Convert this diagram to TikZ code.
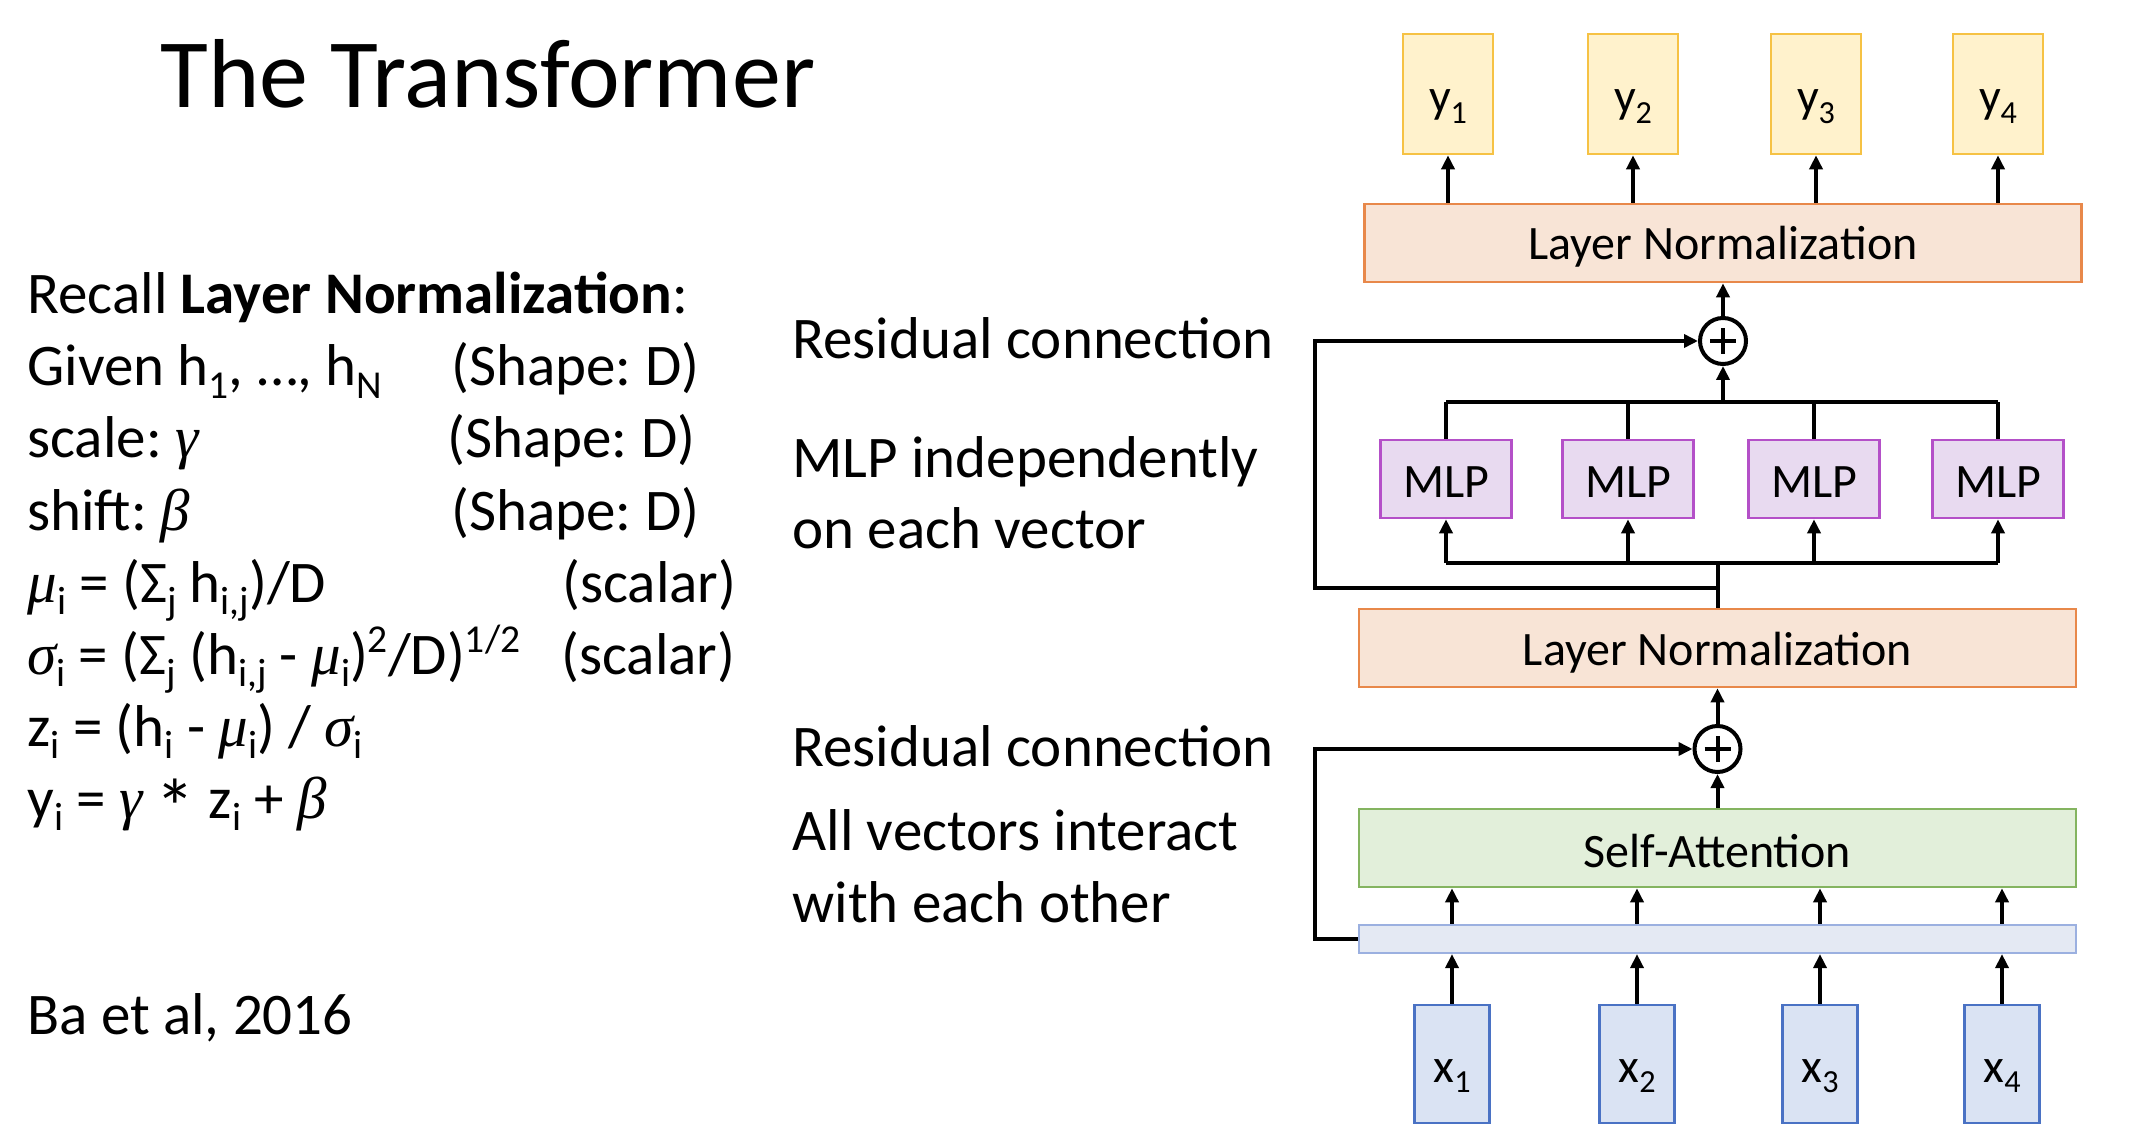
\documentclass[tikz,border=0pt]{standalone}
\usepackage{fontspec}
\setmainfont{Carlito}
\newfontfamily\grkfont{Liberation Serif}
\usetikzlibrary{arrows.meta}
\frenchspacing
\newcommand{\lsb}[1]{\raisebox{-0.22em}{\scalebox{0.67}{#1}}}
\newcommand{\lsp}[1]{\raisebox{0.36em}{\scalebox{0.67}{#1}}}
\newcommand{\gk}[1]{{\grkfont\itshape #1}}
\newcommand{\mystar}{\raisebox{-0.3em}{\scalebox{1.35}{*}}}
\definecolor{yfill}{HTML}{FFF2CC}
\definecolor{yline}{HTML}{F6C244}
\definecolor{lnfill}{HTML}{F8E4D6}
\definecolor{lnline}{HTML}{E8884A}
\definecolor{mfill}{HTML}{E8DAF0}
\definecolor{mline}{HTML}{B450C8}
\definecolor{safill}{HTML}{E2EFDA}
\definecolor{saline}{HTML}{84B460}
\definecolor{barfill}{HTML}{E4E9F3}
\definecolor{barline}{HTML}{9BB0E0}
\definecolor{xfill}{HTML}{DAE3F3}
\definecolor{xline}{HTML}{4A72C4}
\tikzset{
  body/.style={anchor=base west, inner sep=0pt, font=\fontsize{29.5pt}{36pt}\selectfont},
  boxtxt/.style={inner sep=0pt, text depth=0pt, font=\fontsize{24pt}{28pt}\selectfont},
  ybox/.style={boxtxt, text height=19pt, draw=yline, fill=yfill, line width=1.3pt, minimum width=45pt, minimum height=60pt},
  xbox/.style={boxtxt, text height=18pt, draw=xline, fill=xfill, line width=1.3pt, minimum width=37.5pt, minimum height=59pt},
  lnbox/.style={boxtxt, text height=17pt, draw=lnline, fill=lnfill, line width=1.3pt, minimum width=358.5pt, minimum height=39pt},
  sabox/.style={boxtxt, text height=19pt, draw=saline, fill=safill, line width=1.3pt, minimum width=358.5pt, minimum height=39pt},
  barbox/.style={draw=barline, fill=barfill, line width=1.1pt, minimum width=358.5pt, minimum height=14pt, inner sep=0pt},
  mlpbox/.style={boxtxt, text height=18pt, draw=mline, fill=mfill, line width=1.3pt, minimum width=65.5pt, minimum height=39pt},
  plusnode/.style={circle, draw, line width=2pt, minimum size=23pt, inner sep=0pt,
    path picture={\draw[line width=2pt] ([xshift=-6.5pt]path picture bounding box.center) -- ([xshift=6.5pt]path picture bounding box.center)
      ([yshift=-6.5pt]path picture bounding box.center) -- ([yshift=6.5pt]path picture bounding box.center);}},
  conn/.style={line width=2pt},
  arr/.style={line width=2pt, -{Triangle[length=7pt,width=6.5pt]}},
}
\begin{document}
\begin{tikzpicture}[x=0.5pt,y=-0.5pt]
\useasboundingbox (0,0) rectangle (2136,1144);
% title
\node[anchor=base west, inner sep=0pt, font=\fontsize{49pt}{58pt}\selectfont] (title) at (160,108) {The Transformer};
% left text
\node[body] (t1) at (27,314) {Recall \textbf{Layer Normalization}:};
\node[body] (t2) at (27,386) {Given h\lsb{1}, …, h\lsb{N}};
\node[body] (t2r) at (451,386) {(Shape: D)};
\node[body] (t3) at (27,458) {scale: \gk{γ}};
\node[body] (t3r) at (447,458) {(Shape: D)};
\node[body] (t4) at (27,530) {shift: \gk{β}};
\node[body] (t4r) at (451,530) {(Shape: D)};
\node[body] (t5) at (27,602) {\gk{μ}\lsb{i} = (Σ\lsb{j} h\lsb{i,j})/D};
\node[body] (t5r) at (562,602) {(scalar)};
\node[body] (t6) at (27,674) {\gk{σ}\lsb{i} = (Σ\lsb{j} (h\lsb{i,j} - \gk{μ}\lsb{i})\lsp{2}/D)\lsp{1/2}};
\node[body] (t6r) at (561,674) {(scalar)};
\node[body] (t7) at (27,746) {z\lsb{i} = (h\lsb{i} - \gk{μ}\lsb{i}) / \gk{σ}\lsb{i}};
\node[body] (t8) at (27,818) {y\lsb{i} = \gk{γ} \mystar{} z\lsb{i} + \gk{β}};
\node[body] (ba) at (27,1034) {Ba et al, 2016};
% middle text
\node[body] (c1) at (792,359) {Residual connection};
\node[body] (c2) at (792,477) {MLP independently};
\node[body] (c3) at (792,548) {on each vector};
\node[body] (c4) at (792,766) {Residual connection};
\node[body] (c5) at (792,850) {All vectors interact};
\node[body] (c6) at (792,922) {with each other};
% diagram nodes
\node[ybox] (y1) at (1448,94) {y\lsb{1}};
\node[ybox] (y2) at (1633,94) {y\lsb{2}};
\node[ybox] (y3) at (1816,94) {y\lsb{3}};
\node[ybox] (y4) at (1998,94) {y\lsb{4}};
\node[lnbox] (ln1) at (1723,243) {Layer Normalization};
\node[plusnode] (p1) at (1723,341) {};
\node[mlpbox] (m1) at (1446,479) {MLP};
\node[mlpbox] (m2) at (1628,479) {MLP};
\node[mlpbox] (m3) at (1814,479) {MLP};
\node[mlpbox] (m4) at (1998,479) {MLP};
\node[lnbox] (ln2) at (1717.5,648) {Layer Normalization};
\node[plusnode] (p2) at (1717.5,749) {};
\node[sabox] (sa) at (1717.5,848) {Self-Attention};
\node[barbox] (bar) at (1717.5,939) {};
\node[xbox] (x1) at (1452,1064) {x\lsb{1}};
\node[xbox] (x2) at (1637,1064) {x\lsb{2}};
\node[xbox] (x3) at (1820,1064) {x\lsb{3}};
\node[xbox] (x4) at (2002,1064) {x\lsb{4}};
\coordinate (bt) at (1723,402);
\coordinate (bb) at (1717.5,563);
\coordinate (r1) at (1717.5,588);
\coordinate (lx) at (1315,0);
% connectors
\foreach \i in {1,...,4} {
  \draw[arr] (ln1.north -| y\i) -- (y\i.south);
  \draw[conn] (m\i.north) -- (m\i.north |- bt);
  \draw[arr] (bb -| m\i) -- (m\i.south);
  \draw[arr] (x\i.north) -- (bar.south -| x\i);
  \draw[arr] (bar.north -| x\i) -- (sa.south -| x\i);
}
\draw[conn] (m1.north |- bt) -- (m4.north |- bt);
\draw[conn] (m1 |- bb) -- (m4 |- bb);
\draw[arr] (bt) -- (p1.south);
\draw[arr] (p1.north) -- (ln1.south -| p1);
\draw[conn] (ln2.north) -- (bb);
\draw[arr] (r1) -- (r1 -| lx) |- (p1.west);
\draw[arr] (p2.north) -- (ln2.south -| p2);
\draw[arr] (sa.north) -- (p2.south);
\draw[arr] (bar.west) -- (bar.west -| lx) |- (p2.west);
\end{tikzpicture}
\end{document}
